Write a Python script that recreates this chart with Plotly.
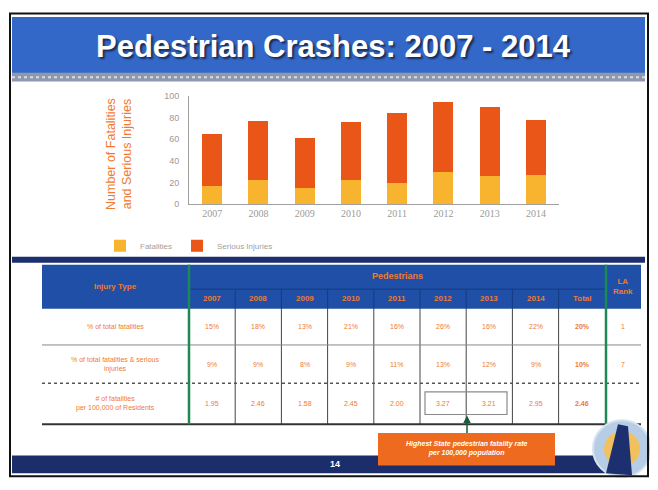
import plotly.graph_objects as go

# chart data
years = ["2007", "2008", "2009", "2010", "2011", "2012", "2013", "2014"]
fatalities = [17, 22, 15, 22, 19, 30, 26, 27]
serious_injuries = [48, 55, 46, 54, 65, 65, 64, 51]

# table data
row_labels = ["% of total fatalities",
              "% of total fatalities & serious<br>injuries",
              "# of fatalities<br>per 100,000 of Residents"]
pct_fatalities = ["15%", "18%", "13%", "21%", "16%", "26%", "16%", "22%"]
pct_fat_serious = ["9%", "9%", "8%", "9%", "11%", "13%", "12%", "9%"]
rate_per_100k = ["1.95", "2.46", "1.58", "2.45", "2.00", "3.27", "3.21", "2.95"]
totals = ["20%", "10%", "2.46"]
la_rank = ["1", "7", ""]

# page body has an 8px margin, so the figure is a bit smaller and offset
OFF = 8
W, H = 658 - OFF, 490 - OFF
ORANGE = "#f07a30"


def px(x):
    return (x - OFF) / W


def py(y):
    return 1 - (y - OFF) / H


fig = go.Figure()
fig.add_trace(go.Bar(x=years, y=fatalities, name="Fatalities",
                     marker=dict(color="#f8b42e", line=dict(width=0))))
fig.add_trace(go.Bar(x=years, y=serious_injuries, name="Serious Injuries",
                     marker=dict(color="#ea5518", line=dict(width=0))))

shapes = []
annos = []


def rect(x0, y0, x1, y1, fill=None, line=None, lw=0, dash=None, layer="below"):
    shapes.append(dict(type="rect", xref="paper", yref="paper",
                       x0=px(x0), x1=px(x1), y0=py(y1), y1=py(y0),
                       fillcolor=fill, layer=layer,
                       line=dict(color=line or "rgba(0,0,0,0)", width=lw, dash=dash)))


def hline(x0, x1, y, color, w=1, dash=None):
    shapes.append(dict(type="line", xref="paper", yref="paper", layer="above",
                       x0=px(x0), x1=px(x1), y0=py(y), y1=py(y),
                       line=dict(color=color, width=w, dash=dash)))


def vline(x, y0, y1, color, w=1):
    shapes.append(dict(type="line", xref="paper", yref="paper", layer="above",
                       x0=px(x), x1=px(x), y0=py(y0), y1=py(y1),
                       line=dict(color=color, width=w)))


def text(x, y, s, size=8, color=ORANGE, bold=False, family="Liberation Sans", italic=False, shadow=None):
    if bold:
        s = "<b>" + s + "</b>"
    if italic:
        s = "<i>" + s + "</i>"
    f = dict(size=size, color=color, family=family)
    if shadow:
        f["shadow"] = shadow
    annos.append(dict(x=px(x), y=py(y), xref="paper", yref="paper", text=s,
                      showarrow=False, xanchor="center", yanchor="middle", font=f))


# title banner
rect(12, 12, 645, 70, fill="#3468c8")
rect(12, 69, 645, 78, fill="#8f98ad")
hline(12, 645, 73.5, "#d8dce6", 2, "dot")
text(333, 42, "Pedestrian Crashes: 2007 - 2014", size=31, color="white", bold=True,
     family="Liberation Sans Narrow, Arial Narrow, Liberation Sans, sans-serif",
     shadow="2px 2px 2px #1a2a55")

# divider under chart
rect(12, 257, 645, 263, fill="#1c2f6e")

# y axis title
annos.append(dict(x=px(119), y=py(152), xref="paper", yref="paper",
                  xanchor="center", yanchor="middle",
                  text="Number of Fatalities<br>and Serious Injuries", textangle=-90,
                  showarrow=False, font=dict(size=12.5, color=ORANGE, family="Liberation Sans")))

# table
col_edges = [42, 189] + [189 + 46.2 * (i + 1) for i in range(9)]
col_edges[-1] = 606
col_edges.append(641)
rect(42, 265, 641, 310, fill="#1f4fa6")
text(115, 287, "Injury Type", size=8, bold=True)
text(397, 277, "Pedestrians", size=9, bold=True)
hdr = years + ["Total"]
for i, h in enumerate(hdr):
    c = (col_edges[i + 1] + col_edges[i + 2]) / 2
    text(c, 300, h, size=8, bold=True)
text(623, 287, "LA<br>Rank", size=8, bold=True)
for e in col_edges[2:-2]:
    vline(e, 290, 310, "#163c80", 1)
hline(189, 606, 290, "#163c80", 1)

row_y = [310, 347, 386, 428]
rows = [pct_fatalities, pct_fat_serious, rate_per_100k]
for r, vals in enumerate(rows):
    cy = (row_y[r] + row_y[r + 1]) / 2
    text(115, cy, row_labels[r], size=7)
    cells = vals + [totals[r]]
    for i, v in enumerate(cells):
        c = (col_edges[i + 1] + col_edges[i + 2]) / 2
        text(c, cy, v, size=7, bold=(i == len(cells) - 1))
    text(623, cy, la_rank[r], size=7)

for e in col_edges[2:-2]:
    vline(e, 310, 428, "#444444", 1)
hline(42, 641, 347, "#888888", 1)
hline(42, 641, 386, "#555555", 1.5, "dot")
hline(42, 641, 428, "#333333", 2)
vline(189, 265, 428, "#1d8a55", 2.5)
vline(606, 265, 428, "#1d8a55", 2.5)

# highlight box and callout
shapes.append(dict(type="rect", xref="paper", yref="paper", layer="above",
                   x0=px(425), x1=px(507), y0=py(418), y1=py(395),
                   line=dict(color="#8a8a8a", width=1.2)))
annos.append(dict(x=px(467), y=py(419), xref="paper", yref="paper", text="",
                  showarrow=True, ax=0, ay=19, arrowhead=2, arrowsize=1,
                  arrowwidth=1.5, arrowcolor="#1d5a3a"))

# footer
rect(12, 460, 612, 478, fill="#1b2d6b")
text(335, 469, "14", size=9, color="white", bold=True)
rect(378, 437, 555, 470, fill="#ee6a1e", layer="above")
text(466, 453, "Highest State pedestrian fatality rate<br>per 100,000 population",
     size=7, color="white", bold=True, italic=True)

# seal
shapes.append(dict(type="circle", xref="paper", yref="paper", layer="above",
                   x0=px(593), x1=px(651), y0=py(482), y1=py(424),
                   fillcolor="#b7cde6", line=dict(color="#d6e2f0", width=2)))
shapes.append(dict(type="circle", xref="paper", yref="paper", layer="above",
                   x0=px(604), x1=px(640), y0=py(471), y1=py(435),
                   fillcolor="#f2c15e", line=dict(width=0)))
shapes.append(dict(type="path", xref="paper", yref="paper", layer="above",
                   path="M {} {} L {} {} L {} {} L {} {} Z".format(
                       px(618), py(428), px(628), py(430), px(632), py(480), px(606), py(478)),
                   fillcolor="#1c2f6e", line=dict(width=0)))

# slide frame
rect(10, 8.5, 648, 481, line="#111111", lw=2, layer="above")

fig.update_layout(
    width=W, height=H,
    margin=dict(l=0, r=0, t=0, b=0),
    paper_bgcolor="white", plot_bgcolor="white",
    barmode="stack", bargap=0.57,
    shapes=shapes, annotations=annos,
    xaxis=dict(domain=[px(189), px(559)], showgrid=False, showline=True,
               linecolor="#a0a0a0", ticks="",
               tickfont=dict(size=10, color="#9a9a9a", family="Liberation Serif")),
    yaxis=dict(domain=[py(203), py(93)], range=[0, 100], dtick=20, showgrid=False,
               showline=True, linecolor="#a0a0a0", ticks="", zeroline=False,
               ticklabelstandoff=7,
               tickfont=dict(size=9, color="#9a9a9a", family="Liberation Sans")),
    legend=dict(orientation="h", x=px(100), y=py(231), yanchor="top", xanchor="left",
                traceorder="normal",
                font=dict(size=8, color="#a0a0a0", family="Liberation Sans"),
                itemwidth=30, bgcolor="rgba(0,0,0,0)"),
)

fig.write_html("out.html")
